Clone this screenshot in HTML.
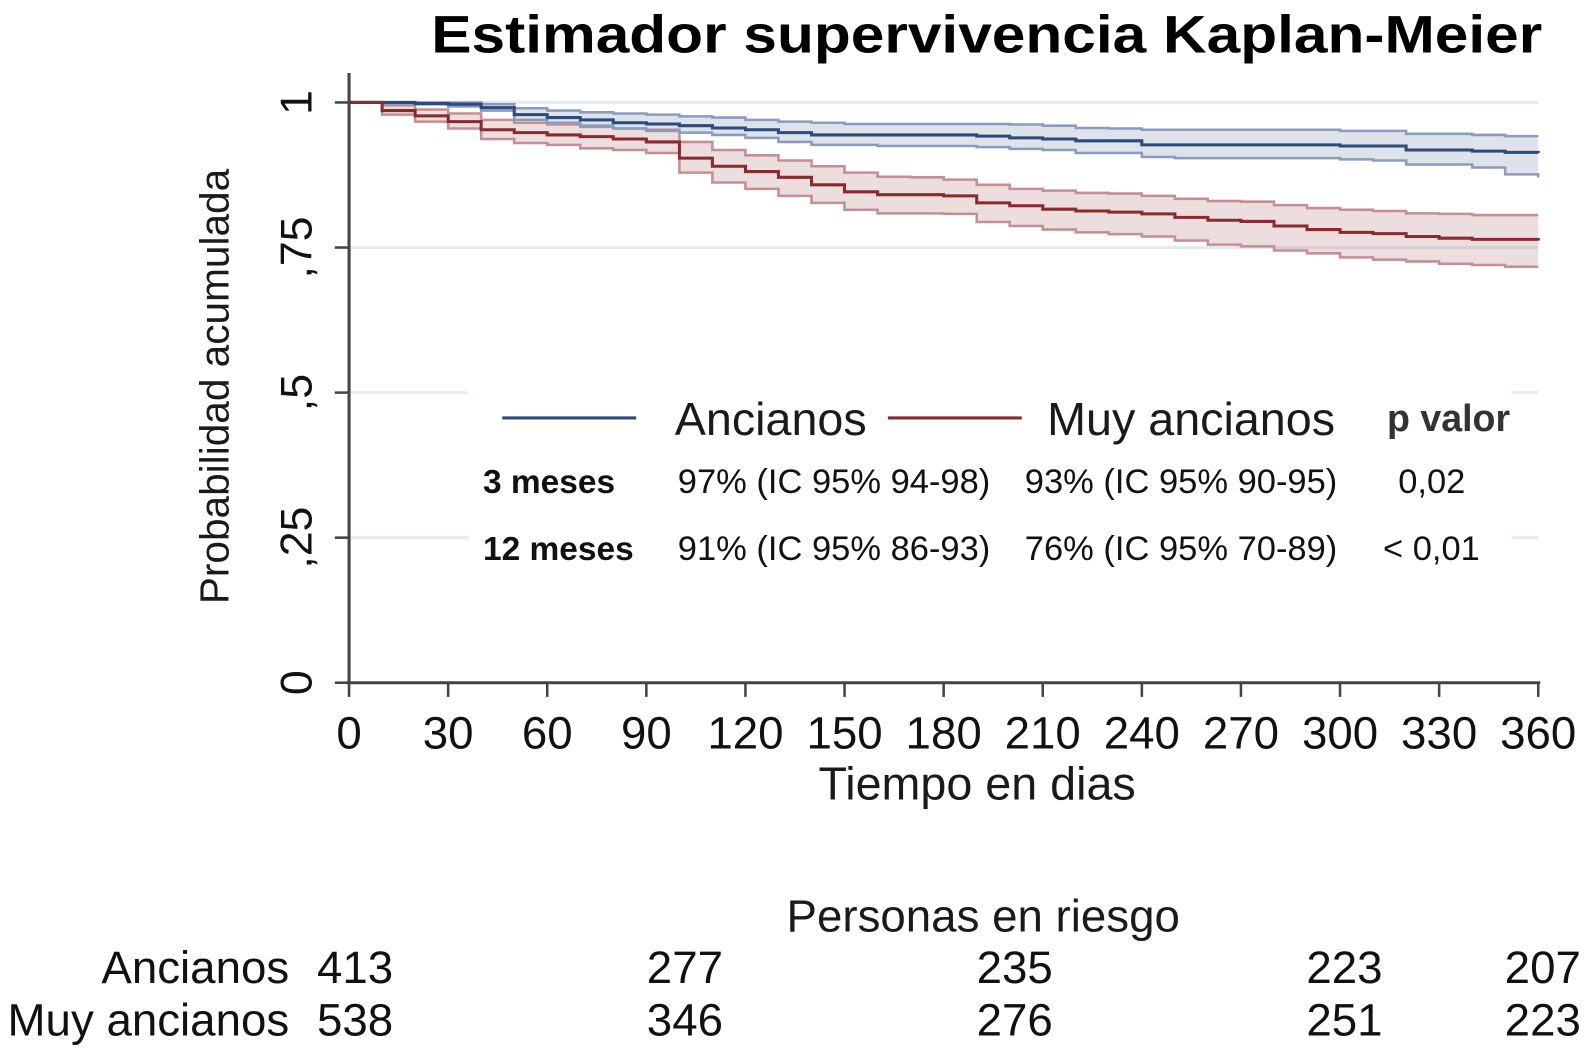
<!DOCTYPE html>
<html><head><meta charset="utf-8"><style>
html,body{margin:0;padding:0;background:#fff;}
svg{display:block;font-family:"Liberation Sans",Arial,sans-serif;}
</style></head><body>
<svg id="chart" width="1591" height="1054" viewBox="0 0 1568 1039" preserveAspectRatio="none" xmlns="http://www.w3.org/2000/svg">
<text x="425" y="52" font-size="52" font-weight="bold" fill="#000" textLength="1095" lengthAdjust="spacingAndGlyphs">Estimador supervivencia Kaplan-Meier</text>
<g id="grid"></g>
<g id="bands"></g>
<g id="lines"></g>
<g id="axes"></g>
<rect x="462" y="372" width="1028" height="192" fill="#fff"/>
<g>
<line x1="495" y1="412" x2="627" y2="412" stroke="#2c4a7c" stroke-width="3"/>
<text x="665" y="429" font-size="46" fill="#1a1a1a">Ancianos</text>
<line x1="875" y1="412" x2="1007" y2="412" stroke="#8a2a2e" stroke-width="3"/>
<text x="1032" y="429" font-size="46" fill="#1a1a1a">Muy ancianos</text>
<text x="1367" y="425" font-size="37" font-weight="bold" fill="#333">p valor</text>
<text x="476" y="486" font-size="33" font-weight="bold" fill="#111">3 meses</text>
<text x="668" y="486" font-size="34" fill="#111">97% (IC 95% 94-98)</text>
<text x="1010" y="486" font-size="34" fill="#111">93% (IC 95% 90-95)</text>
<text x="1378" y="486" font-size="34" fill="#111">0,02</text>
<text x="476" y="552" font-size="33" font-weight="bold" fill="#111">12 meses</text>
<text x="668" y="552" font-size="34" fill="#111">91% (IC 95% 86-93)</text>
<text x="1010" y="552" font-size="34" fill="#111">76% (IC 95% 70-89)</text>
<text x="1363" y="552" font-size="34" fill="#111">&lt; 0,01</text>
</g>
<text x="963" y="788" font-size="46" text-anchor="middle" fill="#1a1a1a">Tiempo en dias</text>
<text transform="translate(225,381) rotate(-90)" font-size="40" text-anchor="middle" fill="#1a1a1a">Probabilidad acumulada</text>
<g font-size="45" fill="#111">
<text x="969" y="918" text-anchor="middle" fill="#1a1a1a">Personas en riesgo</text>
<text x="285" y="969" text-anchor="end">Ancianos</text>
<text x="285" y="1021" text-anchor="end">Muy ancianos</text>
</g>
<g id="risk"></g>
</svg>
<script>
const days=[0,10,20,30,40,50,60,70,80,90,100,110,120,130,140,150,160,170,180,190,200,210,220,230,240,250,260,270,280,290,300,310,320,330,340,350,360];
const ancianos=[1,1,.998,.997,.991,.979,.974,.970,.965,.963,.960,.956,.953,.948,.944,.944,.944,.944,.944,.942,.939,.937,.934,.934,.927,.927,.927,.927,.927,.927,.925,.925,.918,.918,.916,.914,.913];
const ancianosUpper=[1,1,1,1,.997,.990,.986,.983,.981,.979,.976,.974,.970,.967,.965,.963,.963,.963,.963,.963,.962,.960,.956,.955,.953,.953,.953,.953,.953,.953,.951,.951,.946,.946,.944,.942,.942];
const ancianosLower=[1,.998,.997,.993,.986,.970,.965,.960,.955,.951,.948,.944,.939,.932,.927,.927,.925,.925,.925,.923,.920,.918,.913,.913,.906,.904,.904,.904,.904,.904,.902,.900,.893,.893,.888,.876,.871];
const muyAncianos=[1,.986,.977,.967,.953,.948,.944,.941,.937,.932,.904,.890,.881,.871,.858,.846,.841,.841,.839,.827,.822,.816,.813,.811,.808,.802,.797,.795,.787,.781,.776,.774,.769,.766,.764,.764,.762];
const muyAncianosUpper=[1,.995,.988,.981,.970,.965,.962,.958,.955,.953,.932,.918,.909,.900,.890,.879,.872,.871,.867,.858,.851,.848,.844,.843,.839,.834,.830,.829,.823,.818,.815,.813,.809,.808,.806,.806,.806];
const muyAncianosLower=[1,.979,.967,.955,.937,.930,.927,.921,.918,.913,.879,.862,.851,.839,.827,.815,.809,.809,.808,.794,.787,.781,.776,.773,.769,.762,.755,.752,.745,.740,.733,.729,.726,.722,.720,.717,.717];
const xTicks=[0,30,60,90,120,150,180,210,240,270,300,330,360];
const yTicks=[0,.25,.5,.75,1];
const yTickLabels=["0",",25",",5",",75","1"];
const riskDays=[0,90,180,270,360];
const riskAncianos=[413,277,235,223,207];
const riskMuyAncianos=[538,346,276,251,223];

const NS="http://www.w3.org/2000/svg";
const X=d=>344+(d/360)*(1516-344);
const Y=p=>673-p*(673-101);
const RX=i=>350+i*325;
function mk(tag,attrs,parent){const e=document.createElementNS(NS,tag);for(const k in attrs)e.setAttribute(k,attrs[k]);document.getElementById(parent).appendChild(e);return e;}
function stepPts(v){let s=[];for(let i=0;i<days.length;i++){if(i>0)s.push([X(days[i]),Y(v[i-1])]);s.push([X(days[i]),Y(v[i])]);}return s;}
function toD(p){return p.map((q,i)=>(i?'L':'M')+q[0].toFixed(1)+' '+q[1].toFixed(1)).join(' ');}

[.25,.5,.75,1].forEach(t=>{
  const g=mk('line',{x1:344,x2:1516,y1:Y(t),y2:Y(t),stroke:'#e3ecf0','stroke-width':3},'grid');
  
  
});

function band(up,lo,fill,edge,name){
  const u=stepPts(up),l=stepPts(lo).reverse();
  const p=mk('path',{d:toD(u.concat(l))+' Z',fill:fill,stroke:'none'},'bands');
  
  
  const a=mk('path',{d:toD(stepPts(up)),fill:'none',stroke:edge,'stroke-width':2.5},'bands');
  
  
  const b=mk('path',{d:toD(stepPts(lo)),fill:'none',stroke:edge,'stroke-width':2.5},'bands');
  
  
}
band(muyAncianosUpper,muyAncianosLower,'rgba(170,100,105,0.22)','#c48e92','muy-ancianos');
band(ancianosUpper,ancianosLower,'rgba(120,140,175,0.25)','#8a9cbc','ancianos');
const l1=mk('path',{d:toD(stepPts(ancianos)),fill:'none',stroke:'#2c4a7c','stroke-width':3},'lines');


const l2=mk('path',{d:toD(stepPts(muyAncianos)),fill:'none',stroke:'#8a2a2e','stroke-width':3},'lines');



const ya=mk('line',{x1:344,x2:344,y1:72,y2:675,stroke:'#444','stroke-width':3},'axes');


const xa=mk('line',{x1:342,x2:1518,y1:673,y2:673,stroke:'#444','stroke-width':3},'axes');


yTicks.forEach((t,i)=>{
  const tk=mk('line',{x1:330,x2:344,y1:Y(t),y2:Y(t),stroke:'#444','stroke-width':2.5},'axes');
  
  
  const tx=mk('text',{transform:`translate(307,${Y(t)}) rotate(-90)`,'font-size':44,'text-anchor':'middle',fill:'#111'},'axes');
  tx.textContent=yTickLabels[i];
  
  
});
xTicks.forEach(t=>{
  const tk=mk('line',{x1:X(t),x2:X(t),y1:673,y2:687,stroke:'#444','stroke-width':2.5},'axes');
  
  
  const tx=mk('text',{x:X(t),y:738,'font-size':45,'text-anchor':'middle',fill:'#111'},'axes');
  tx.textContent=t;
  
  
});
riskDays.forEach((d,i)=>{
  const last=i===riskDays.length-1;
  const xx=last?1558:RX(i);
  const anc=last?'end':'middle';
  const a=mk('text',{x:xx,y:969,'font-size':45,'text-anchor':anc,fill:'#111'},'risk');
  a.textContent=riskAncianos[i];
  
  
  const b=mk('text',{x:xx,y:1021,'font-size':45,'text-anchor':anc,fill:'#111'},'risk');
  b.textContent=riskMuyAncianos[i];
  
  
});
</script>
</body></html>
